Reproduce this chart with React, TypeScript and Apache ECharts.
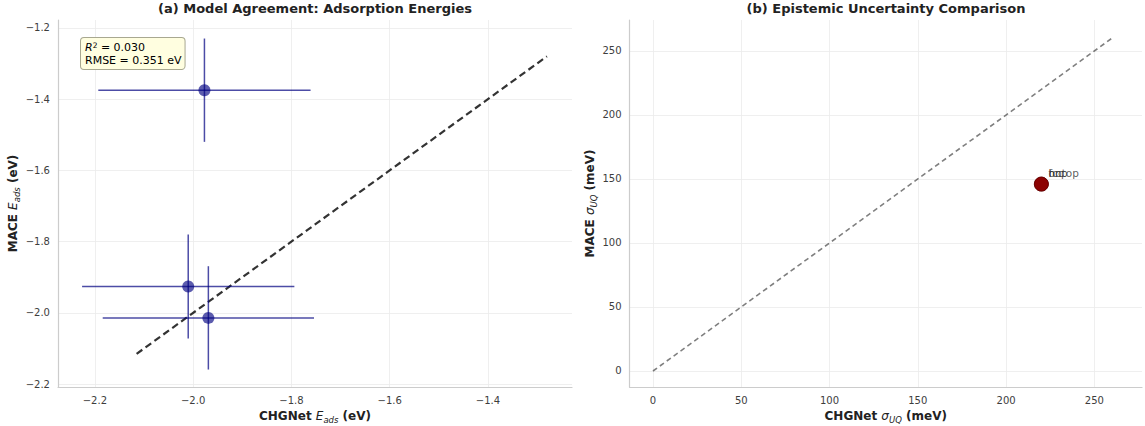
import React, { useEffect, useRef } from "react";
import * as echarts from "echarts";

// ---- data ----
const sites = ["fcc", "hcp", "ontop"];
const chgnetE = [-1.977, -2.01, -1.969]; // eV
const maceE = [-1.375, -1.926, -2.014]; // eV
const chgnetErr = [0.216, 0.216, 0.215]; // eV
const maceErr = [0.145, 0.146, 0.145]; // eV
const chgnetSigma = [220, 220, 220]; // meV
const maceSigma = [146, 146, 146]; // meV
const refLineA = [-2.115, -1.28];
const refLineB = [0, 260];
const xTicksA = [-2.2, -2.0, -1.8, -1.6, -1.4];
const yTicksA = [-2.2, -2.0, -1.8, -1.6, -1.4, -1.2];
const ticksB = [0, 50, 100, 150, 200, 250];
const r2Text = "0.030";
const rmseText = "0.351";

const FONT = "DejaVu Sans";
const GRID_COLOR = "#ebebeb";
const SPINE = "#cccccc";
const TICK_COLOR = "#3d3d3d";

const fmtMinus = (v: number) => (v < 0 ? "\u2212" : "") + Math.abs(v).toFixed(1);

const nameRich = {
  b: { fontFamily: FONT, fontWeight: "bold", fontSize: 12, color: "#222", lineHeight: 16, verticalAlign: "bottom" },
  i: { fontFamily: FONT, fontStyle: "italic", fontSize: 12, color: "#222", lineHeight: 16, verticalAlign: "bottom" },
  s: { fontFamily: FONT, fontStyle: "italic", fontSize: 8.5, color: "#222", lineHeight: 12, verticalAlign: "bottom", padding: [0, 0, -3, 0] },
};

function axisCommon(ticks: number[], fmt: (v: number) => string) {
  return {
    axisLine: { show: true, onZero: false, lineStyle: { color: SPINE, width: 1.2 } },
    axisTick: { show: false, customValues: ticks },
    axisLabel: {
      customValues: ticks,
      formatter: fmt,
      fontFamily: FONT,
      fontSize: 10,
      color: TICK_COLOR,
    },
    splitLine: { show: true, lineStyle: { color: GRID_COLOR, width: 0.8 } },
  };
}

export default function App() {
  const ref = useRef<HTMLDivElement>(null);
  useEffect(() => {
    document.body.style.margin = "0";
    const chart = echarts.init(ref.current!, null, { renderer: "svg" });

    const errData = chgnetE.map((x, i) => [x, maceE[i], chgnetErr[i], maceErr[i]]);
    const ptsA = chgnetE.map((x, i) => [x, maceE[i]]);
    const ptsB = sites.map((s, i) => ({ name: s, value: [chgnetSigma[i], maceSigma[i]] }));

    const option: any = {
      animation: false,
      backgroundColor: "#ffffff",
      title: [
        {
          text: "(a) Model Agreement: Adsorption Energies",
          left: 315,
          top: 2,
          padding: 0,
          textAlign: "center",
          textStyle: { fontFamily: FONT, fontWeight: "bold", fontSize: 13, color: "#222" },
        },
        {
          text: "(b) Epistemic Uncertainty Comparison",
          left: 886,
          top: 2,
          padding: 0,
          textAlign: "center",
          textStyle: { fontFamily: FONT, fontWeight: "bold", fontSize: 13, color: "#222" },
        },
      ],
      grid: [
        { left: 58, top: 20, width: 514, height: 367, outerBoundsMode: "none", containLabel: false },
        { left: 629.5, top: 20, width: 512.5, height: 367, outerBoundsMode: "none", containLabel: false },
      ],
      xAxis: [
        {
          gridIndex: 0,
          type: "value",
          min: -2.275,
          max: -1.229,
          ...axisCommon(xTicksA, fmtMinus),
          name: "{b|CHGNet }{i|E}{s|ads}{b| (eV)}",
          nameLocation: "middle",
          nameGap: 18,
          nameTextStyle: { rich: nameRich },
        },
        {
          gridIndex: 1,
          type: "value",
          min: -13.3,
          max: 277,
          ...axisCommon(ticksB, (v: number) => String(v)),
          name: "{b|CHGNet }{i|σ}{s|UQ}{b| (meV)}",
          nameLocation: "middle",
          nameGap: 18,
          nameTextStyle: { rich: nameRich },
        },
      ],
      yAxis: [
        {
          gridIndex: 0,
          type: "value",
          min: -2.208,
          max: -1.178,
          ...axisCommon(yTicksA, fmtMinus),
          name: "{b|MACE }{i|E}{s|ads}{b| (eV)}",
          nameLocation: "middle",
          nameGap: 32,
          nameRotate: 90,
          nameTextStyle: { rich: nameRich },
        },
        {
          gridIndex: 1,
          type: "value",
          min: -12.5,
          max: 274.2,
          ...axisCommon(ticksB, (v: number) => String(v)),
          name: "{b|MACE }{i|σ}{s|UQ}{b| (meV)}",
          nameLocation: "middle",
          nameGap: 30,
          nameRotate: 90,
          nameTextStyle: { rich: nameRich },
        },
      ],
      series: [
        {
          type: "line",
          xAxisIndex: 0,
          yAxisIndex: 0,
          data: [
            [refLineA[0], refLineA[0]],
            [refLineA[1], refLineA[1]],
          ],
          symbol: "none",
          lineStyle: { color: "rgba(0,0,0,0.8)", width: 2.2, type: [7, 4] },
          z: 1,
        },
        {
          type: "custom",
          xAxisIndex: 0,
          yAxisIndex: 0,
          data: errData,
          z: 2,
          renderItem: (params: any, api: any) => {
            const x = api.value(0);
            const y = api.value(1);
            const xe = api.value(2);
            const ye = api.value(3);
            const a = api.coord([x - xe, y]);
            const b = api.coord([x + xe, y]);
            const c = api.coord([x, y - ye]);
            const d = api.coord([x, y + ye]);
            const style = { stroke: "rgba(0,0,128,0.7)", lineWidth: 1.5 };
            return {
              type: "group",
              children: [
                { type: "line", shape: { x1: a[0], y1: a[1], x2: b[0], y2: b[1] }, style },
                { type: "line", shape: { x1: c[0], y1: c[1], x2: d[0], y2: d[1] }, style },
              ],
            };
          },
        },
        {
          type: "scatter",
          xAxisIndex: 0,
          yAxisIndex: 0,
          data: ptsA,
          symbolSize: 12,
          itemStyle: { color: "rgba(0,0,128,0.8)" },
          z: 3,
        },
        {
          type: "line",
          xAxisIndex: 1,
          yAxisIndex: 1,
          data: [
            [refLineB[0], refLineB[0]],
            [refLineB[1], refLineB[1]],
          ],
          symbol: "none",
          lineStyle: { color: "rgba(0,0,0,0.5)", width: 1.6, type: [5, 3.5] },
          z: 1,
        },
        {
          type: "scatter",
          xAxisIndex: 1,
          yAxisIndex: 1,
          data: ptsB,
          symbolSize: 14,
          itemStyle: { color: "#8b0000", borderColor: "#5a0000", borderWidth: 0.6 },
          label: {
            show: true,
            formatter: "{b}",
            position: [14.5, -9],
            fontFamily: FONT,
            fontSize: 10.5,
            color: "#333",
          },
          labelLayout: { hideOverlap: false },
          z: 3,
        },
      ],
      graphic: [
        {
          type: "text",
          left: 80,
          top: 37,
          style: {
            text: "{i|R}{sup|2}{t| = " + r2Text + "}\n{t|RMSE = " + rmseText + " eV}",
            rich: {
              i: { fontFamily: FONT, fontStyle: "italic", fontSize: 11, color: "#222", lineHeight: 13 },
              sup: { fontFamily: FONT, fontSize: 7.5, color: "#222", verticalAlign: "top", lineHeight: 13, padding: [0, 0, 4, 0] },
              t: { fontFamily: FONT, fontSize: 11, color: "#222", lineHeight: 13 },
            },
            backgroundColor: "#fffee0",
            borderColor: "#a8a890",
            borderWidth: 1,
            borderRadius: 3,
            padding: [3, 3, 2, 4],
          },
          z: 10,
        },
      ],
    };
    chart.setOption(option);
    return () => chart.dispose();
  }, []);
  return <div ref={ref} style={{ width: 1145, height: 426 }} />;
}
